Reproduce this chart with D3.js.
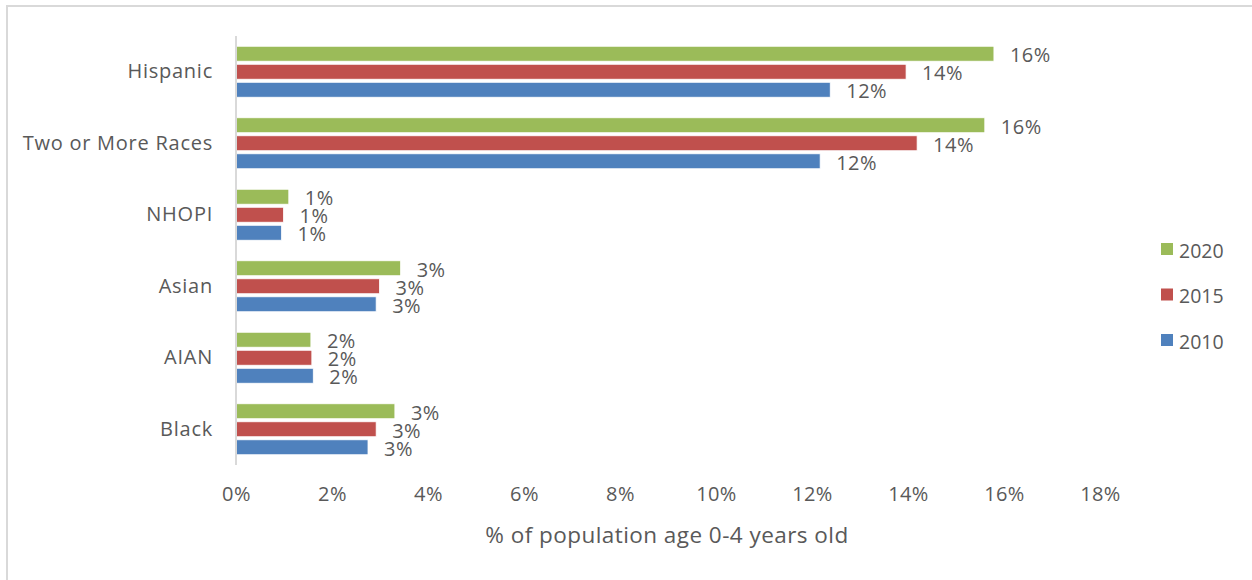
<!DOCTYPE html>
<html>
<head>
<meta charset="utf-8">
<script src="https://cdn.jsdelivr.net/npm/d3@7"></script>
<style>
  html, body { margin: 0; padding: 0; background: #fff; }
  svg { display: block; }
  text { font-family: "Open Sans", Lato, sans-serif; fill: #595959; }
</style>
</head>
<body>
<svg id="chart" width="1252" height="580"></svg>
<script>
const categories = ["Hispanic", "Two or More Races", "NHOPI", "Asian", "AIAN", "Black"];
const seriesNames = ["2020", "2015", "2010"];
const values2020 = [15.79, 15.6, 1.1, 3.43, 1.56, 3.31];
const values2015 = [13.96, 14.19, 0.99, 2.99, 1.58, 2.92];
const values2010 = [12.38, 12.17, 0.95, 2.92, 1.61, 2.75];
const xTicks = [0, 2, 4, 6, 8, 10, 12, 14, 16, 18];
const xTitle = "% of population age 0-4 years old";
const colors = ["#9BBB59", "#C0504D", "#4F81BD"];

const seriesValues = [values2020, values2015, values2010];
const FONT = "'Open Sans', Lato, sans-serif";

const svg = d3.select("#chart");

// outer border
svg.append("rect")
  .attr("x", 7).attr("y", 6)
  .attr("width", 1260).attr("height", 600)
  .attr("fill", "none")
  .attr("stroke", "#d9d9d9")
  .attr("stroke-width", 2);

const x = d3.scaleLinear().domain([0, 18]).range([236, 1100]);
const y = d3.scaleBand().domain(categories).range([36, 465]).paddingInner(0.287).paddingOuter(0.1435);
const ySub = d3.scaleBand().domain(seriesNames).range([0, y.bandwidth()]).paddingInner(0.17).paddingOuter(0);
const color = d3.scaleOrdinal().domain(seriesNames).range(colors);
const fmt = v => d3.format(".0%")(v / 100);

const rows = [];
categories.forEach((c, i) => {
  seriesNames.forEach((s, j) => {
    rows.push({ cat: c, series: s, value: seriesValues[j][i] });
  });
});

// bars
svg.append("g").selectAll("rect")
  .data(rows)
  .join("rect")
  .attr("x", x(0))
  .attr("y", d => y(d.cat) + ySub(d.series))
  .attr("width", d => x(d.value) - x(0))
  .attr("height", ySub.bandwidth())
  .attr("fill", d => color(d.series))
  .attr("stroke", "#fff")
  .attr("stroke-width", 0.8);

// data labels
svg.append("g").selectAll("text")
  .data(rows)
  .join("text")
  .attr("x", d => x(d.value) + 16)
  .attr("y", d => y(d.cat) + ySub(d.series) + ySub.bandwidth() / 2 + 1)
  .attr("dominant-baseline", "central")
  .style("font-size", "20px")
  .style("letter-spacing", "0.5px")
  .text(d => fmt(d.value));

// y axis line
svg.append("line")
  .attr("x1", x(0)).attr("x2", x(0))
  .attr("y1", 36).attr("y2", 465)
  .attr("stroke", "#d9d9d9").attr("stroke-width", 2);

// category labels
const yAxis = svg.append("g")
  .attr("transform", `translate(${x(0)},0)`)
  .call(d3.axisLeft(y).tickSize(0).tickPadding(23));
yAxis.select(".domain").remove();
yAxis.selectAll("text")
  .style("font-size", "20px")
  .style("letter-spacing", "0.75px")
  .attr("fill", "#595959")
  .style("font-family", FONT);

// x axis tick labels
const xAxis = svg.append("g")
  .attr("transform", `translate(0,465)`)
  .call(d3.axisBottom(x).tickValues(xTicks).tickSize(0).tickPadding(22).tickFormat(d => d + "%"));
xAxis.select(".domain").remove();
xAxis.selectAll("text")
  .style("font-size", "20px")
  .style("letter-spacing", "0.4px")
  .attr("fill", "#595959")
  .style("font-family", FONT);

// x title
svg.append("text")
  .attr("x", 667).attr("y", 534)
  .attr("text-anchor", "middle")
  .attr("dominant-baseline", "central")
  .style("font-size", "22.5px")
  .style("letter-spacing", "0.45px")
  .text(xTitle);

// legend
const legend = svg.append("g");
seriesNames.forEach((s, i) => {
  const ly = 249 + i * 45.5;
  legend.append("rect")
    .attr("x", 1161).attr("y", ly - 6)
    .attr("width", 12).attr("height", 12)
    .attr("fill", color(s));
  legend.append("text")
    .attr("x", 1179).attr("y", ly + 1)
    .attr("dominant-baseline", "central")
    .style("font-size", "19.5px")
    .text(s);
});
</script>
</body>
</html>
